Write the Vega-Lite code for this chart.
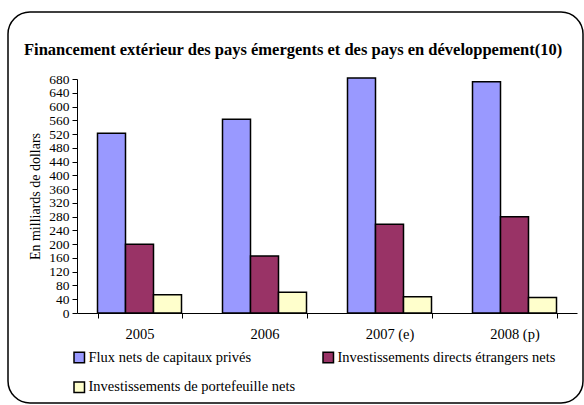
{
  "$schema": "https://vega.github.io/schema/vega-lite/v6.json",
  "width": 575,
  "height": 391,
  "autosize": {"type": "none"},
  "padding": {"left": 8, "top": 12, "right": 1, "bottom": 2},
  "background": "white",
  "title": {
    "text": "Financement extérieur des pays émergents et des pays en développement(10)",
    "anchor": "start",
    "frame": "group",
    "orient": "top",
    "offset": -46,
    "dx": 16,
    "font": "Liberation Serif",
    "fontSize": 16.5,
    "fontWeight": "bold",
    "color": "black"
  },
  "data": {
    "values": [
      {"annee": "2005", "serie": "Flux nets de capitaux privés", "valeur": 522},
      {"annee": "2005", "serie": "Investissements directs étrangers nets", "valeur": 200},
      {"annee": "2005", "serie": "Investissements de portefeuille nets", "valeur": 53},
      {"annee": "2006", "serie": "Flux nets de capitaux privés", "valeur": 563},
      {"annee": "2006", "serie": "Investissements directs étrangers nets", "valeur": 166},
      {"annee": "2006", "serie": "Investissements de portefeuille nets", "valeur": 60},
      {"annee": "2007 (e)", "serie": "Flux nets de capitaux privés", "valeur": 683},
      {"annee": "2007 (e)", "serie": "Investissements directs étrangers nets", "valeur": 258},
      {"annee": "2007 (e)", "serie": "Investissements de portefeuille nets", "valeur": 47},
      {"annee": "2008 (p)", "serie": "Flux nets de capitaux privés", "valeur": 672},
      {"annee": "2008 (p)", "serie": "Investissements directs étrangers nets", "valeur": 280},
      {"annee": "2008 (p)", "serie": "Investissements de portefeuille nets", "valeur": 45}
    ]
  },
  "mark": {"type": "bar", "stroke": "black", "strokeWidth": 1.5},
  "encoding": {
    "x": {
      "field": "annee",
      "type": "nominal",
      "sort": null,
      "scale": {"range": [69, 569], "paddingInner": 0.328, "paddingOuter": 0.164},
      "axis": {
        "title": null,
        "orient": "bottom",
        "offset": -90,
        "labelAngle": 0,
        "tickBand": "extent",
        "tickSize": 5,
        "labelPadding": 9,
        "domainColor": "black",
        "tickColor": "black",
        "labelColor": "black",
        "labelFont": "Liberation Serif",
        "labelFontSize": 14.5
      }
    },
    "xOffset": {
      "field": "serie",
      "type": "nominal",
      "sort": ["Flux nets de capitaux privés", "Investissements directs étrangers nets", "Investissements de portefeuille nets"],
      "scale": {"paddingInner": 0, "paddingOuter": 0}
    },
    "y": {
      "field": "valeur",
      "type": "quantitative",
      "scale": {"domain": [0, 680], "range": [301, 67], "nice": false, "zero": true},
      "axis": {
        "title": "En milliards de dollars",
        "orient": "left",
        "offset": -69,
        "values": [0, 40, 80, 120, 160, 200, 240, 280, 320, 360, 400, 440, 480, 520, 560, 600, 640, 680],
        "grid": false,
        "tickSize": 5,
        "labelPadding": 3,
        "labelOverlap": false,
        "titlePadding": 6,
        "domainColor": "black",
        "tickColor": "black",
        "labelColor": "black",
        "titleColor": "black",
        "labelFont": "Liberation Serif",
        "labelFontSize": 13.5,
        "titleFont": "Liberation Serif",
        "titleFontSize": 14,
        "titleFontWeight": "normal"
      }
    },
    "color": {
      "field": "serie",
      "type": "nominal",
      "scale": {
        "domain": ["Flux nets de capitaux privés", "Investissements directs étrangers nets", "Investissements de portefeuille nets"],
        "range": ["#9999FF", "#993366", "#FFFFCC"]
      },
      "legend": {
        "title": null,
        "orient": "none",
        "legendX": 64,
        "legendY": 338,
        "columns": 2,
        "direction": "horizontal",
        "symbolType": "square",
        "symbolSize": 110,
        "symbolStrokeColor": "black",
        "symbolStrokeWidth": 1.5,
        "labelFont": "Liberation Serif",
        "labelFontSize": 14.5,
        "labelColor": "black",
        "labelLimit": 400,
        "labelOffset": 2,
        "rowPadding": 13,
        "columnPadding": 24
      }
    }
  },
  "config": {
    "view": {"stroke": "black", "strokeWidth": 1.5, "cornerRadius": 22},
    "axis": {"domainWidth": 1, "tickWidth": 1}
  }
}
